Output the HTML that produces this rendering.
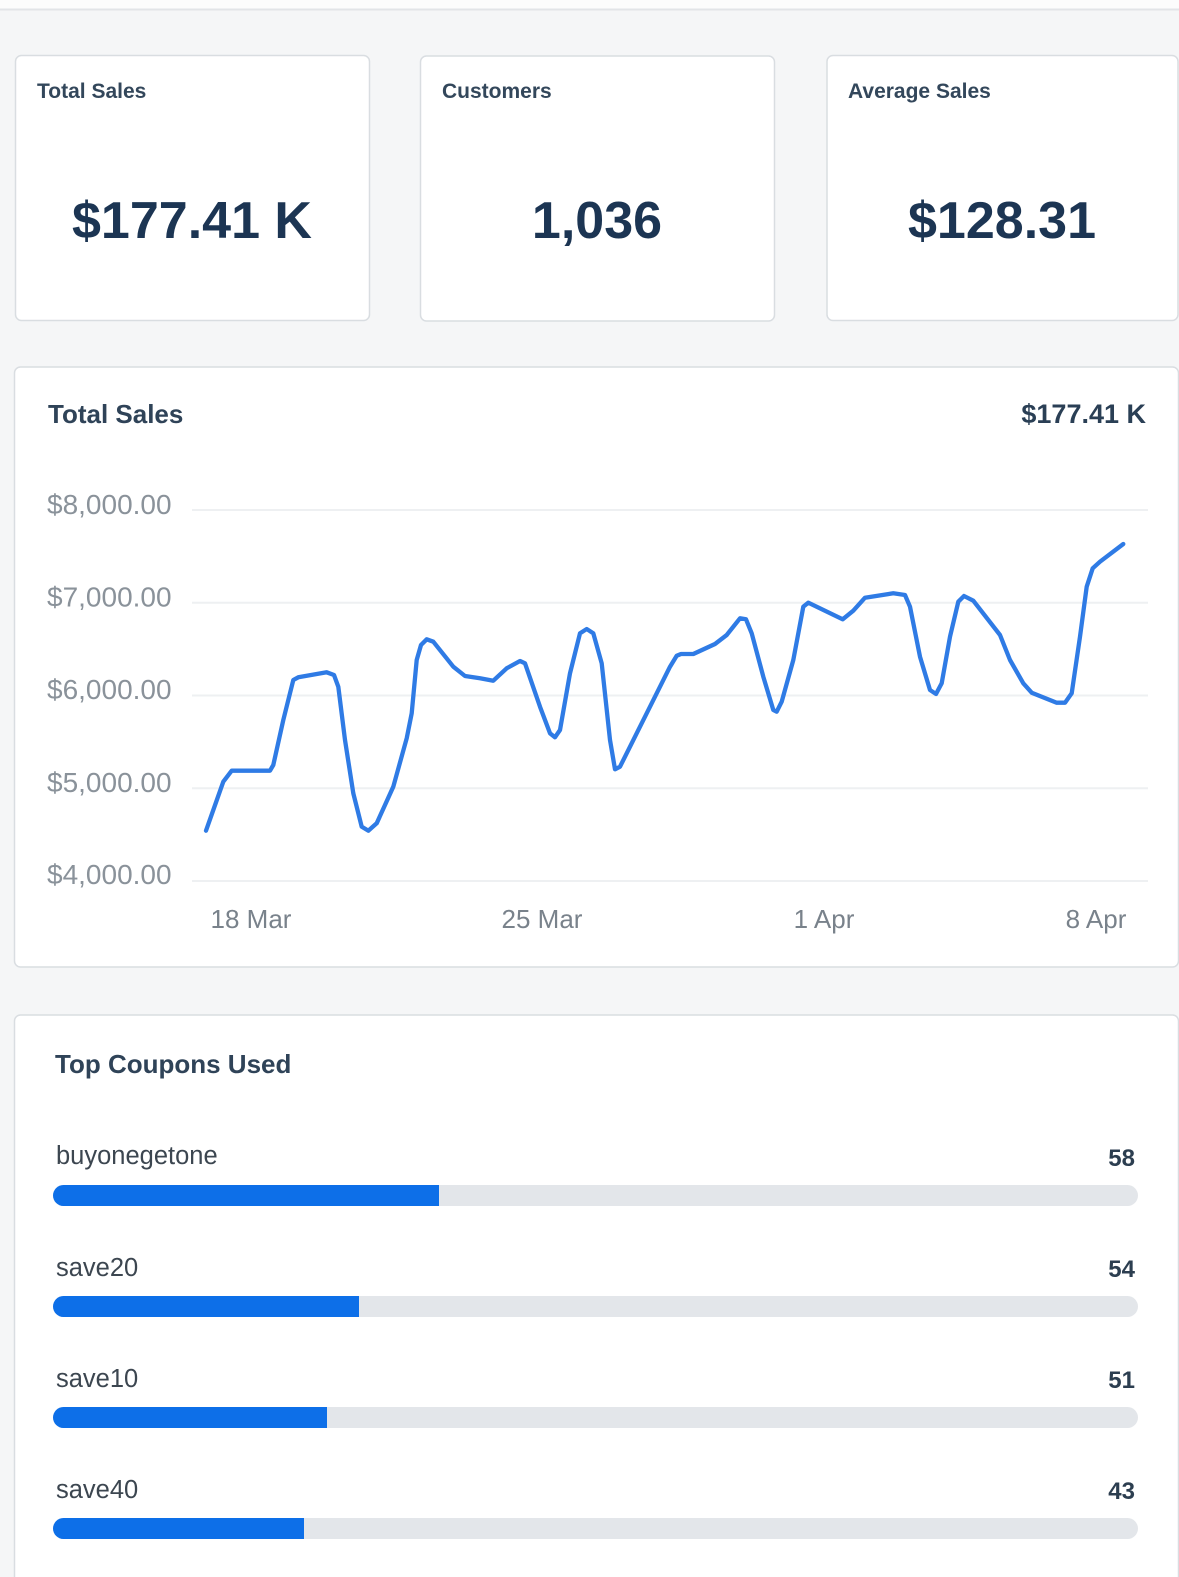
<!DOCTYPE html>
<html>
<head>
<meta charset="utf-8">
<style>
  html,body{margin:0;padding:0;background:#f5f6f7;}
  svg{display:block;}
  text{font-family:"Liberation Sans",Arial,Helvetica,sans-serif;}
</style>
</head>
<body>
<svg width="1179" height="1577" viewBox="0 0 1179 1577" xmlns="http://www.w3.org/2000/svg">
  <!-- page background -->
  <rect x="0" y="0" width="1179" height="1577" fill="#f5f6f7"/>
  <rect x="0" y="0" width="1179" height="9" fill="#fcfcfc"/>
  <rect x="0" y="8.5" width="1179" height="2" fill="#e2e4e7"/>

  <!-- stat cards -->
  <rect x="15.5" y="55.5" width="354" height="265" rx="6" fill="#ffffff" stroke="#d9dde1" stroke-width="1.5"/>
  <rect x="420.5" y="56" width="354" height="265" rx="6" fill="#ffffff" stroke="#d9dde1" stroke-width="1.5"/>
  <rect x="827" y="55.5" width="351" height="265" rx="6" fill="#ffffff" stroke="#d9dde1" stroke-width="1.5"/>

  <text x="37" y="98" font-size="21" font-weight="bold" fill="#33475b">Total Sales</text>
  <text x="442" y="98" font-size="21" font-weight="bold" fill="#33475b">Customers</text>
  <text x="848" y="98" font-size="21" font-weight="bold" fill="#33475b">Average Sales</text>

  <text x="192" y="238" font-size="52" font-weight="bold" fill="#1c3553" text-anchor="middle">$177.41 K</text>
  <text x="597" y="238" font-size="52" font-weight="bold" fill="#1c3553" text-anchor="middle">1,036</text>
  <text x="1002" y="238" font-size="52" font-weight="bold" fill="#1c3553" text-anchor="middle">$128.31</text>

  <!-- chart card -->
  <rect x="14.5" y="367" width="1164" height="600" rx="6" fill="#ffffff" stroke="#d9dde1" stroke-width="1.5"/>
  <text x="48" y="423" font-size="26" font-weight="bold" fill="#2f4358">Total Sales</text>
  <text x="1146" y="423" font-size="27" font-weight="bold" fill="#2a3f55" text-anchor="end">$177.41 K</text>

  <!-- gridlines -->
  <g stroke="#eef0f2" stroke-width="2">
    <line x1="192" y1="510" x2="1148" y2="510"/>
    <line x1="192" y1="602.75" x2="1148" y2="602.75"/>
    <line x1="192" y1="695.5" x2="1148" y2="695.5"/>
    <line x1="192" y1="788.25" x2="1148" y2="788.25"/>
    <line x1="192" y1="881" x2="1148" y2="881"/>
  </g>

  <!-- y labels -->
  <g font-size="28" fill="#8a929a">
    <text x="47" y="514">$8,000.00</text>
    <text x="47" y="606.5">$7,000.00</text>
    <text x="47" y="699">$6,000.00</text>
    <text x="47" y="792">$5,000.00</text>
    <text x="47" y="884">$4,000.00</text>
  </g>

  <!-- x labels -->
  <g font-size="26" fill="#79828b" text-anchor="middle">
    <text x="251" y="928">18 Mar</text>
    <text x="542" y="928">25 Mar</text>
    <text x="824" y="928">1 Apr</text>
    <text x="1096" y="928">8 Apr</text>
  </g>

  <!-- line series -->
  <polyline fill="none" stroke="#2f7be5" stroke-width="4.3" stroke-linejoin="round" stroke-linecap="round"
    points="206,830.7 213.3,810 223.3,781.7 231.7,770.7 270,770.7 273.3,765 283.3,720 293.3,680 298.3,677.3 326.7,672.3 334,675 338.3,686.7 345,740 353.3,793.3 361.7,826.7 368.3,830.7 376.7,823.3 393.3,786.7 406.7,738.3 411.7,713.3 416.7,660 421,645 426.7,639.3 433.3,641.7 453.3,666.7 465,676 480,678.3 493.3,680.7 506.7,668.3 520,661 525,663.3 540,706.7 550,733.3 555,737.3 560,730 570,673.3 580,633.3 586.7,629 593.3,633.3 601.7,663.3 610,740 615,769.3 620,766.7 646.7,713.3 670,666.7 676.7,655.7 681,654 693.3,654 715,644 726.7,635 740,618.3 746,619.3 751.7,633.3 763.3,676.7 773.3,710 776.7,711.7 781.7,701.7 793.3,660 803.3,606.7 808.3,602.7 842.7,619.3 853.3,610.7 865,597.7 893.3,593.3 905,595 910,606.7 920,656.7 930,690 936,694 941.7,683.3 950,636.7 958.3,601.7 964,596 973.3,600.7 1000,635 1010,660 1023.3,683.3 1031.7,692.7 1056.7,702.7 1065,702.7 1071.7,693.3 1080,636.7 1086.7,586.7 1092.7,568.3 1100,561.7 1123.3,544"/>

  <!-- coupons card -->
  <rect x="14.5" y="1015" width="1164" height="600" rx="6" fill="#ffffff" stroke="#d9dde1" stroke-width="1.5"/>
  <text x="55" y="1073" font-size="26" font-weight="bold" fill="#2f4358">Top Coupons Used</text>

  <g font-size="25.5" fill="#3c4650">
    <text x="56" y="1164">buyonegetone</text>
    <text x="56" y="1276">save20</text>
    <text x="56" y="1387">save10</text>
    <text x="56" y="1498">save40</text>
  </g>
  <g font-size="24" font-weight="bold" fill="#2c3e50" text-anchor="end">
    <text x="1135" y="1166">58</text>
    <text x="1135" y="1277">54</text>
    <text x="1135" y="1388">51</text>
    <text x="1135" y="1499">43</text>
  </g>

  <!-- bar tracks -->
  <g fill="#e3e6ea">
    <rect x="53" y="1185" width="1085" height="21" rx="10.5"/>
    <rect x="53" y="1296" width="1085" height="21" rx="10.5"/>
    <rect x="53" y="1407" width="1085" height="21" rx="10.5"/>
    <rect x="53" y="1518" width="1085" height="21" rx="10.5"/>
  </g>
  <!-- bar fills -->
  <g fill="#0d6fe8">
    <path d="M63.5,1185 H439 V1206 H63.5 A10.5,10.5 0 0 1 63.5,1185 Z"/>
    <path d="M63.5,1296 H359 V1317 H63.5 A10.5,10.5 0 0 1 63.5,1296 Z"/>
    <path d="M63.5,1407 H327 V1428 H63.5 A10.5,10.5 0 0 1 63.5,1407 Z"/>
    <path d="M63.5,1518 H304 V1539 H63.5 A10.5,10.5 0 0 1 63.5,1518 Z"/>
  </g>
</svg>
</body>
</html>
